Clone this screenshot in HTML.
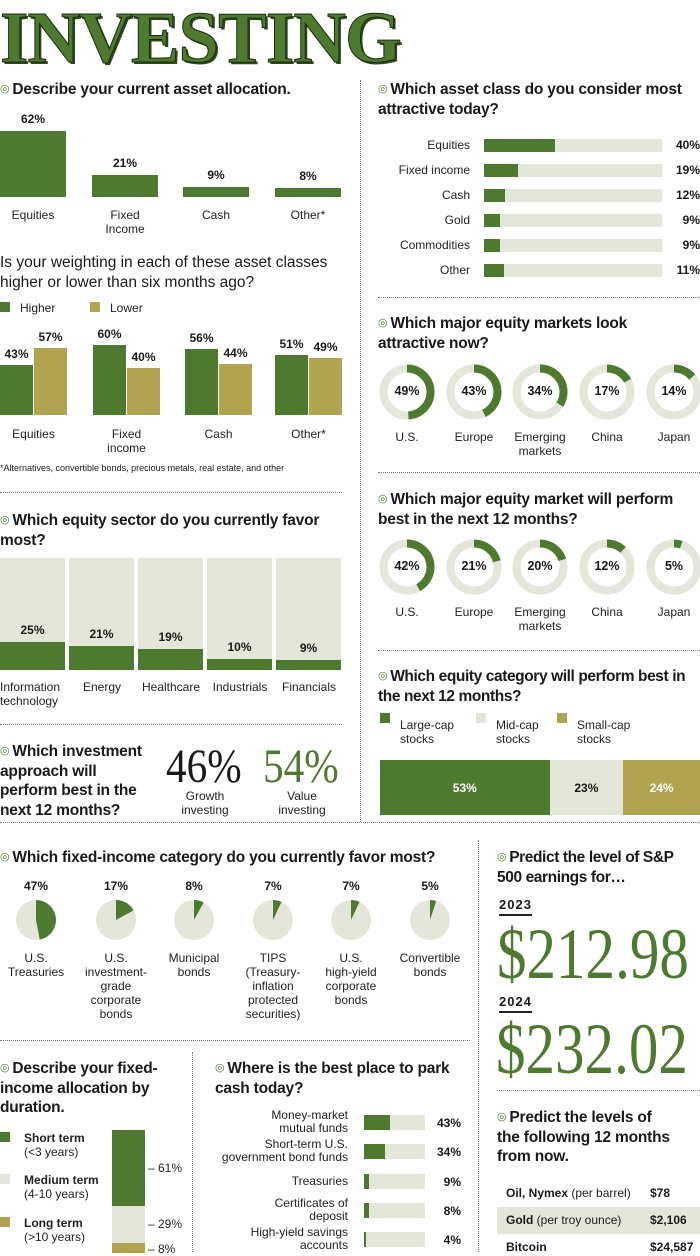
<!DOCTYPE html>
<html><head><meta charset="utf-8">
<style>
*{margin:0;padding:0;box-sizing:border-box}
body{width:700px;height:1252px;position:relative;overflow:hidden;background:#fff;font-family:"Liberation Sans",sans-serif;color:#1a1a1a}
.a{position:absolute}
.q{position:absolute;font-weight:bold;font-size:15.5px;line-height:19.5px;letter-spacing:-0.2px}
.q2{position:absolute;font-size:15.5px;line-height:19.5px}
.b{color:#4e7a2f;font-size:11px;font-weight:normal;vertical-align:2px;margin-right:3px}
.lb{position:absolute;font-size:12px;line-height:14px;text-align:center;color:#222}
.v{position:absolute;font-size:12px;font-weight:bold;text-align:center}
.hd{position:absolute;border-top:1.5px dotted #777;height:0}
.vd{position:absolute;border-left:1.5px dotted #777;width:0}
.ser{position:absolute;font-family:"Liberation Serif",serif;transform-origin:0 0;white-space:nowrap}
</style></head><body>
<div class="ser" style="left:0;top:-4px;font-size:73px;font-weight:bold;color:#4e7a2f;text-shadow:2px 2px 0 #2d4a1a;-webkit-text-stroke:1px #1d2a12;letter-spacing:-1px">INVESTING</div>

<div class="vd" style="left:360px;top:80px;height:742px"></div>
<div class="hd" style="left:0;top:492px;width:342px"></div>
<div class="hd" style="left:0;top:724px;width:342px"></div>
<div class="hd" style="left:378px;top:297px;width:322px"></div>
<div class="hd" style="left:378px;top:472px;width:322px"></div>
<div class="hd" style="left:378px;top:650px;width:322px"></div>
<div class="hd" style="left:0;top:822px;width:700px"></div>
<div class="vd" style="left:478px;top:840px;height:412px"></div>
<div class="hd" style="left:0;top:1040px;width:470px"></div>
<div class="vd" style="left:192px;top:1052px;height:200px"></div>
<div class="hd" style="left:497px;top:1090px;width:203px"></div>

<div class="q" style="left:0;top:80px"><span class="b">◎</span>Describe your current asset allocation.</div>
<div class="q2" style="left:0;top:253px;width:345px">Is your weighting in each of these asset classes higher or lower than six months ago?</div>
<div class="a" style="left:0;top:302px;width:10px;height:10px;background:#4e7a2f"></div>
<div class="lb" style="left:20px;top:301px;text-align:left">Higher</div>
<div class="a" style="left:90px;top:302px;width:10px;height:10px;background:#b0a450"></div>
<div class="lb" style="left:110px;top:301px;text-align:left">Lower</div>
<div class="a" style="left:0;top:463px;font-size:9px">*Alternatives, convertible bonds, precious metals, real estate, and other</div>

<div class="q" style="left:0;top:511px;width:345px"><span class="b">◎</span>Which equity sector do you currently favor most?</div>
<div class="q" style="left:0;top:742px;width:150px"><span class="b">◎</span>Which investment approach will perform best in the next 12 months?</div>
<div class="ser" style="left:166px;top:739px;font-size:48px;transform:scaleX(0.86)">46%</div>
<div class="ser" style="left:263px;top:739px;font-size:48px;color:#4e7a2f;transform:scaleX(0.86)">54%</div>
<div class="lb" style="left:165px;top:789px;width:80px">Growth<br>investing</div>
<div class="lb" style="left:262px;top:789px;width:80px">Value<br>investing</div>

<div class="q" style="left:378px;top:80px;width:322px"><span class="b">◎</span>Which asset class do you consider most attractive today?</div>
<div class="q" style="left:378px;top:314px;width:300px"><span class="b">◎</span>Which major equity markets look attractive now?</div>
<div class="q" style="left:378px;top:490px;width:322px"><span class="b">◎</span>Which major equity market will perform best in the next 12 months?</div>
<div class="q" style="left:378px;top:667px;width:322px;letter-spacing:-0.4px"><span class="b">◎</span>Which equity category will perform best in the next 12 months?</div>

<div class="q" style="left:0;top:848px"><span class="b">◎</span>Which fixed-income category do you currently favor most?</div>
<div class="q" style="left:497px;top:848px;width:203px;letter-spacing:-0.4px"><span class="b">◎</span>Predict the level of S&amp;P 500 earnings for…</div>
<div class="a" style="left:499px;top:897px;font-size:13px;font-weight:bold;letter-spacing:1px;border-bottom:2px solid #222;padding-bottom:2px">2023</div>
<div class="ser" style="left:497px;top:913px;font-size:72px;color:#4e7a2f;transform:scaleX(0.82)">$212.98</div>
<div class="a" style="left:499px;top:994px;font-size:13px;font-weight:bold;letter-spacing:1px;border-bottom:2px solid #222;padding-bottom:2px">2024</div>
<div class="ser" style="left:496px;top:1008px;font-size:72px;color:#4e7a2f;transform:scaleX(0.82)">$232.02</div>

<div class="q" style="left:497px;top:1108px;width:178px"><span class="b">◎</span>Predict the levels of the following 12 months from now.</div>
<div class="a" style="left:497px;top:1207px;width:203px;height:27px;background:#e4e6da"></div>
<div class="a" style="left:506px;top:1186px;font-size:12px"><b>Oil, Nymex</b> (per barrel)</div>
<div class="a" style="left:650px;top:1186px;font-size:12px;font-weight:bold">$78</div>
<div class="a" style="left:506px;top:1213px;font-size:12px"><b>Gold</b> (per troy ounce)</div>
<div class="a" style="left:650px;top:1213px;font-size:12px;font-weight:bold">$2,106</div>
<div class="a" style="left:506px;top:1240px;font-size:12px;font-weight:bold">Bitcoin</div>
<div class="a" style="left:650px;top:1240px;font-size:12px;font-weight:bold">$24,587</div>

<div class="q" style="left:0;top:1059px;width:180px"><span class="b">◎</span>Describe your fixed-income allocation by duration.</div>
<div class="q" style="left:215px;top:1059px;width:260px"><span class="b">◎</span>Where is the best place to park cash today?</div>

<div id="root"></div>
<script>
const G='#4e7a2f',L='#e4e6da',O='#b0a450';
const allocCats=['Equities','Fixed<br>Income','Cash','Other*'];
const allocVals=[62,21,9,8];
const wCats=['Equities','Fixed<br>income','Cash','Other*'];
const wHigher=[43,60,56,51];
const wLower=[57,40,44,49];
const sectorCats=['Information<br>technology','Energy','Healthcare','Industrials','Financials'];
const sectorVals=[25,21,19,10,9];
const classCats=['Equities','Fixed income','Cash','Gold','Commodities','Other'];
const classVals=[40,19,12,9,9,11];
const mktCats=['U.S.','Europe','Emerging<br>markets','China','Japan'];
const mktAttr=[49,43,34,17,14];
const mktBest=[42,21,20,12,5];
const catNames=['Large-cap<br>stocks','Mid-cap<br>stocks','Small-cap<br>stocks'];
const catVals=[53,23,24];
const fiCats=['U.S.<br>Treasuries','U.S.<br>investment-<br>grade<br>corporate<br>bonds','Municipal<br>bonds','TIPS<br>(Treasury-<br>inflation<br>protected<br>securities)','U.S.<br>high-yield<br>corporate<br>bonds','Convertible<br>bonds'];
const fiVals=[47,17,8,7,7,5];
const durCats=['Short term','Medium term','Long term'];
const durSub=['(&lt;3 years)','(4-10 years)','(&gt;10 years)'];
const durVals=[61,29,8];
const cashCats=['Money-market<br>mutual funds','Short-term U.S.<br>government bond funds','Treasuries','Certificates of<br>deposit','High-yield savings<br>accounts'];
const cashVals=[43,34,9,8,4];

const root=document.getElementById('root');
function box(x,y,w,h,bg){const d=document.createElement('div');d.className='a';d.style.cssText=`left:${x}px;top:${y}px;width:${w}px;height:${h}px;background:${bg}`;root.appendChild(d);return d;}
function txt(cls,x,y,w,html,extra){const d=document.createElement('div');d.className=cls;d.style.cssText=`left:${x}px;top:${y}px;width:${w}px;`+(extra||'');d.innerHTML=html;root.appendChild(d);return d;}

const aBase=197,aScale=1.065,aX=[0,92,183,275];
allocVals.forEach((v,i)=>{const h=v*aScale;
 const b=box(aX[i],aBase-h,66,h,G);
 
 
 const t=txt('v',aX[i],aBase-h-19,66,v+'%');
 
 
 const l=txt('lb',aX[i]-5,208,76,allocCats[i]);
 
 
});
const wBase=415,wScale=1.17,wX=[0,93,185,275];
wCats.forEach((c,i)=>{
 [[wHigher[i],G,0],[wLower[i],O,34]].forEach(([v,col,off])=>{const h=v*wScale;
  const b=box(wX[i]+off,wBase-h,33,h,col);
  
  
  const t=txt('v',wX[i]+off-4,wBase-h-18,41,v+'%');
  
  
 });
 const l=txt('lb',wX[i]-5,427,77,c);
 
 
});
const sTop=558,sH=112,sX=[0,69,138,207,276];
sectorVals.forEach((v,i)=>{
 const bg=box(sX[i],sTop,65,sH,L);
 
 
 const h=v/100*sH;
 const b=box(sX[i],sTop+sH-h,65,h,G);
 
 
 const t=txt('v',sX[i],sTop+sH-h-19,65,v+'%');
 
 
 const l=txt('lb',i==0?0:sX[i]-5,680,76,sectorCats[i],i==0?'text-align:left':'');
 
 
});
const cX=484,cW=178;
classVals.forEach((v,i)=>{const y=139+i*25;
 const bg=box(cX,y,cW,13,L);
 
 
 const b=box(cX,y,v/100*cW,13,G);
 
 
 const l=txt('lb',370,y-1,100,classCats[i],'text-align:right');
 
 
 const t=txt('v',660,y-1,40,v+'%','text-align:right');
 
 
});
const dX=[407,474,540,607,674];
function donuts(vals,cy,ly,nm){
 vals.forEach((v,i)=>{const r=23.5,c=2*Math.PI*r;
  const s=document.createElementNS('http://www.w3.org/2000/svg','svg');
  s.setAttribute('width','60');s.setAttribute('height','60');
  s.style.cssText=`position:absolute;left:${dX[i]-30}px;top:${cy-30}px`;
  s.innerHTML=`<circle cx="30" cy="30" r="${r}" fill="none" stroke="${L}" stroke-width="8"/><circle cx="30" cy="30" r="${r}" fill="none" stroke="${G}" stroke-width="8" stroke-dasharray="${v/100*c} ${c}" transform="rotate(-90 30 30)"/>`;
  
  
  root.appendChild(s);
  const t=txt('v',dX[i]-25,cy-8,50,v+'%','font-size:12.5px');
  
  
  const l=txt('lb',dX[i]-35,ly,70,mktCats[i]);
  
  
 });
}
donuts(mktAttr,392,430,'market-attractive');
donuts(mktBest,567,605,'market-best');
const catCols=[G,L,O],lgX=[380,476,557];
let cx=380;const cTW=320;
catVals.forEach((v,i)=>{
 const sq=box(lgX[i],713,10,10,catCols[i]);
 
 
 const l=txt('lb',lgX[i]+20,718,80,catNames[i],'text-align:left');
 
 
 const w=v/100*cTW;
 const b=box(cx,760,w,55,catCols[i]);
 
 
 const t=txt('v',cx,781,w,v+'%',i==1?'':'color:#fff');
 
 
 cx+=w;
});
const pX=[36,116,194,273,351,430],pY=920,pR=20;
fiVals.forEach((v,i)=>{
 const a=v/100*2*Math.PI,ex=pX[i]+pR*Math.sin(a),ey=pY-pR*Math.cos(a);
 const s=document.createElementNS('http://www.w3.org/2000/svg','svg');
 s.setAttribute('width','470');s.setAttribute('height','60');
 s.style.cssText=`position:absolute;left:0;top:${pY-30}px;overflow:visible`;
 s.innerHTML=`<g transform="translate(0,${30-pY})"><circle cx="${pX[i]}" cy="${pY}" r="${pR}" fill="${L}"/><path d="M${pX[i]} ${pY}L${pX[i]} ${pY-pR}A${pR} ${pR} 0 ${v>50?1:0} 1 ${ex} ${ey}Z" fill="${G}"/></g>`;
 
 
 root.appendChild(s);
 const t=txt('v',pX[i]-25,879,50,v+'%');
 
 
 const l=txt('lb',pX[i]-38,951,76,fiCats[i]);
 
 
});
const dCols=[G,L,O],legY=[1131,1173,1216],dTop=1130,dScale=1.25;
let dy=dTop;
durVals.forEach((v,i)=>{
 const sq=box(0,legY[i]+1,10,10,dCols[i]);
 
 
 const l=txt('lb',24,legY[i],90,'<span style="font-weight:600">'+durCats[i]+'</span><br>'+durSub[i],'text-align:left');
 
 
 const h=v*dScale;
 const b=box(112,dy,33,h,dCols[i]);
 
 
 const t=txt('lb',148,dy+(i<2?h/2-7:-1),40,'– '+v+'%','text-align:left');
 
 
 dy+=h;
});
const kX=364,kW=61;
cashVals.forEach((v,i)=>{const y=1115+i*29.3;
 const bg=box(kX,y,kW,15,L);
 
 
 const b=box(kX,y,Math.max(v/100*kW,2),15,G);
 
 
 const multi=cashCats[i].includes('<br>');
 const l=txt('lb',200,y+(multi?-6:1),148,cashCats[i],'text-align:right;line-height:13px');
 
 
 const t=txt('v',425,y+1,36,v+'%','text-align:right');
 
 
});
</script>
</body></html>
